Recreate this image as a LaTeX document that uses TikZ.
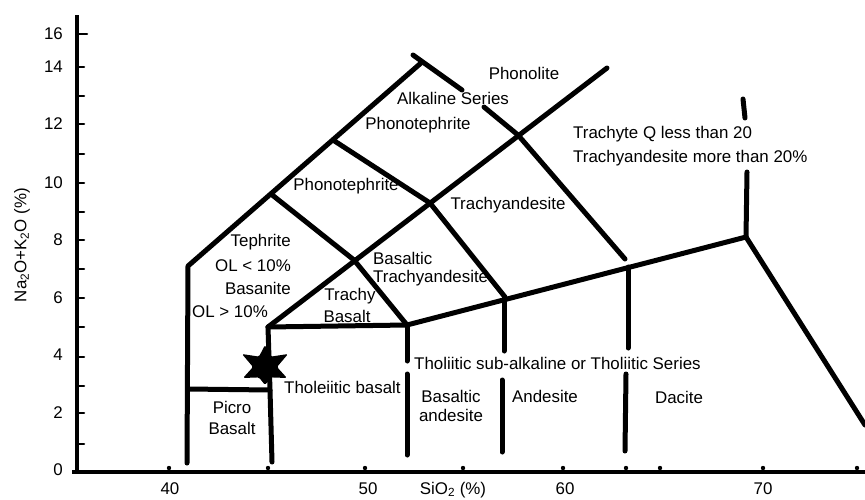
\documentclass[tikz,border=0pt]{standalone}
\usepackage{fontspec}
\setmainfont{Liberation Sans}
\begin{document}
\begin{tikzpicture}[x=1pt,y=-1pt,
  bd/.style={line width=5pt, line cap=round, line join=round},
  ax/.style={line width=4.5pt},
  lbl/.style={font=\fontsize{16.9}{19}\selectfont, inner sep=0pt},
  tck/.style={line width=2.5pt, line cap=round}]
\useasboundingbox (0,0) rectangle (865,499);
\fill[white] (0,0) rectangle (865,499);
% axes
\draw[ax] (77,15) -- (77,474);
\draw[ax] (72,472) -- (865,472);
\foreach \yy in {67,96,124,154,183,212,240,269,298,327,357,386,413,444}
  \draw[tck] (78,\yy) -- (84,\yy);
\draw[tck] (78,34) -- (87,34);
\foreach \xx in {169,268,365,463,563,626,660,763,857}
  \fill (\xx,468) circle (2.2);
% tick labels
\foreach \yy/\t in {34/16,67/14,124/12,183/10,240/8,298/6,355/4,413/2,470/0}
  \node[lbl, anchor=east] (yl\t) at (63,\yy) {\t};
\foreach \xx/\t in {170/40,368/50,565/60,763/70}
  \node[lbl] (xl\t) at (\xx,489) {\t};
\node[lbl, rotate=90] (ytitle) at (22,245) {Na\textsubscript{2}O+K\textsubscript{2}O (\%)};
\node[lbl] (xtitle) at (453,490) {SiO\textsubscript{2} (\%)};
% field boundaries
\draw[bd] (187,463) -- (188,266) -- (421,63);
\draw[bd] (413,55) -- (462,90);
\draw[bd] (484,107) -- (518,135) -- (625,259);
\draw[bd] (268,327) -- (607,68);
\draw[bd] (333,140) -- (430,203) -- (505,297);
\draw[bd] (271,194) -- (354,260) -- (407,325);
\draw[bd] (268,327) -- (407,325);
\draw[bd] (407,325) -- (746,237);
\draw[bd] (746,237) -- (865,425);
\draw[bd] (746,237) -- (747,172);
\draw[bd] (743,99) -- (745,118);
\draw[bd] (407,325) -- (407,361);
\draw[bd] (407,374) -- (407,455);
\draw[bd] (504,297) -- (504,351);
\draw[bd] (502,380) -- (502,452);
\draw[bd] (628,267) -- (628,348);
\draw[bd] (626,374) -- (625,451);
\draw[bd] (268,327) -- (270,390) -- (272,462);
\draw[bd] (188,389) -- (270,390);
% star
\fill[rounded corners=1.5pt] (265,345) -- (271,356.6) -- (288,354) -- (277,367) -- (287,378)
  -- (271,377.4) -- (265,385) -- (259,377.4) -- (243,378) -- (253,367) -- (242,354)
  -- (259,356.6) -- cycle;
% labels
\node[lbl] (phonolite) at (524,73) {Phonolite};
\node[lbl] (alk) at (453,98) {Alkaline Series};
\node[lbl] (pt1) at (418,125) {Phonotephrite};
\node[lbl] (pt2) at (346,186) {Phonotephrite};
\node[lbl, anchor=west] (tq1) at (573,134) {Trachyte Q less than 20};
\node[lbl, anchor=west] (tq2) at (573,158) {Trachyandesite more than 20\%};
\node[lbl] (ta) at (508,205) {Trachyandesite};
\node[lbl, anchor=east] (teph) at (291,242) {Tephrite};
\node[lbl, anchor=east] (ol1) at (291,266) {OL < 10\%};
\node[lbl, anchor=east] (basn) at (291,288) {Basanite};
\node[lbl, anchor=west] (ol2) at (192,312) {OL > 10\%};
\node[lbl, anchor=west] (bta1) at (373,258) {Basaltic};
\node[lbl, anchor=west] (bta2) at (373,278) {Trachyandesite};
\node[lbl] (tb1) at (350,296) {Trachy};
\node[lbl] (tb2) at (347,316) {Basalt};
\node[lbl, anchor=west] (thb) at (284,387) {Tholeiitic basalt};
\node[lbl, anchor=west] (ths) at (414,363) {Tholiitic sub-alkaline or Tholiitic Series};
\node[lbl] (pb1) at (232,407) {Picro};
\node[lbl] (pb2) at (232,428) {Basalt};
\node[lbl] (ba1) at (451,396) {Basaltic};
\node[lbl] (ba2) at (451,415) {andesite};
\node[lbl] (and) at (545,396) {Andesite};
\node[lbl] (dac) at (679,397) {Dacite};
\end{tikzpicture}
\end{document}
